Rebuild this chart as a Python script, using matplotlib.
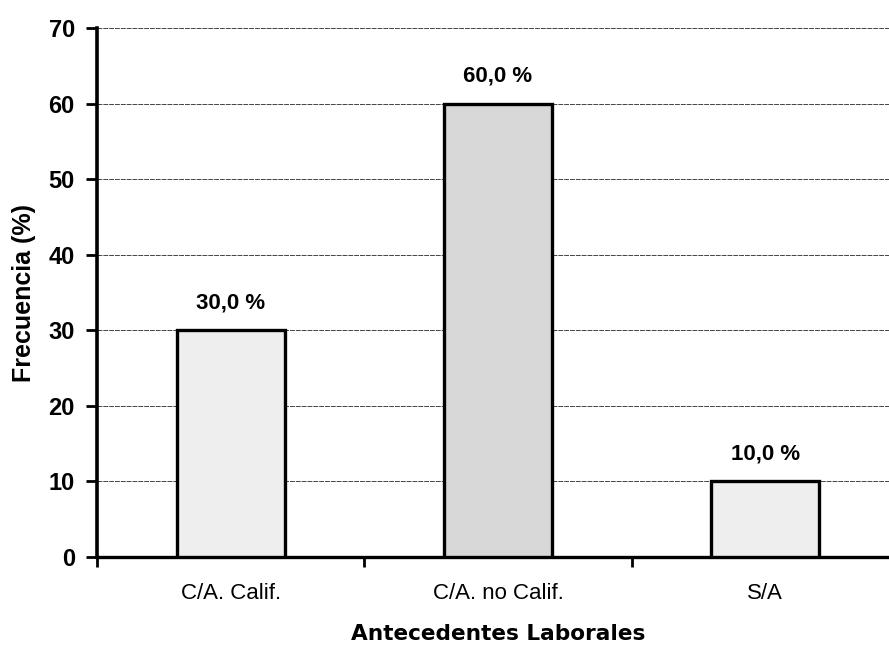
import matplotlib
matplotlib.use("Agg")
import matplotlib.pyplot as plt
import numpy as np

categories = ["C/A. Calif.", "C/A. no Calif.", "S/A"]
values = [30.0, 60.0, 10.0]
labels = ["30,0 %", "60,0 %", "10,0 %"]
bar_colors = ["#eeeeee", "#d8d8d8", "#eeeeee"]
y_ticks = [0, 10, 20, 30, 40, 50, 60, 70]
x_title = "Antecedentes Laborales"
y_title = "Frecuencia (%)"

plt.rcParams['font.family'] = ['Liberation Sans', 'DejaVu Sans']

fig = plt.figure(figsize=(8.89, 6.47), dpi=100)
ax = fig.add_axes([97/889, (647-557)/647, 802/889, (557-28)/647])

x = np.arange(len(categories)) + 0.5
ax.bar(x, values, width=0.405, color=bar_colors, edgecolor="black", linewidth=2.4, zorder=3)

for xi, v, lab in zip(x, values, labels):
    ax.annotate(lab, (xi, v), xytext=(0, 12), textcoords="offset points",
                ha="center", va="bottom", fontsize=16, fontweight="bold")

ax.set_xlim(0, 3)
ax.set_ylim(0, 70)
ax.set_yticks(y_ticks)
ax.set_yticklabels([str(t) for t in y_ticks], fontsize=17, fontweight="bold")
ax.set_xticks([0, 1, 2, 3])
ax.set_xticklabels([])
ax.set_xticks(x, minor=True)
ax.set_xticklabels(categories, minor=True, fontsize=16)
ax.tick_params(axis="x", which="minor", length=0, pad=19)
ax.tick_params(axis="x", which="major", length=7, width=2, direction="out")
ax.tick_params(axis="y", length=8, width=2, direction="out", pad=8)

ax.yaxis.grid(True, linestyle=(0, (5, 1)), color="#444444", linewidth=0.7, zorder=0)
ax.set_axisbelow(True)

for s in ["top", "right"]:
    ax.spines[s].set_visible(False)
ax.spines["left"].set_linewidth(2.6)
ax.spines["bottom"].set_linewidth(2.4)

ax.set_ylabel(y_title, fontsize=18, fontweight="bold", labelpad=9)
ax.set_xlabel(x_title, fontsize=15.6, fontweight="bold", family=["DejaVu Sans"], labelpad=14)

fig.savefig("out.png", dpi=100)
